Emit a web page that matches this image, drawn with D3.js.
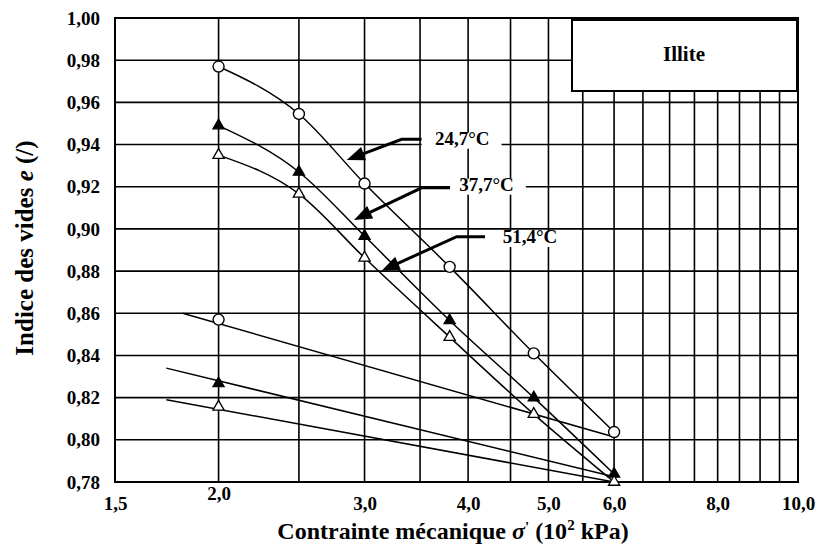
<!DOCTYPE html>
<html><head><meta charset="utf-8">
<script src="https://cdn.jsdelivr.net/npm/d3@7"></script>
<style>
body{margin:0;background:#fff;}
svg text{font-family:"Liberation Serif","Times New Roman",serif;font-weight:bold;fill:#000;}
</style></head>
<body><svg id="c" width="821" height="552"></svg>
<script>
// ---- data ----
const xTickValues = [1.5, 2, 3, 4, 5, 6, 8, 10];
const xTickLabels = ["1,5", "2,0", "3,0", "4,0", "5,0", "6,0", "8,0", "10,0"];
const xGridValues = [2, 2.5, 3, 3.5, 4, 4.5, 5, 5.5, 6, 6.5, 7, 7.5, 8, 8.5, 9, 9.5];
const yTickValues = [0.78, 0.80, 0.82, 0.84, 0.86, 0.88, 0.90, 0.92, 0.94, 0.96, 0.98, 1.00];
const yTickLabels = ["0,78", "0,80", "0,82", "0,84", "0,86", "0,88", "0,90", "0,92", "0,94", "0,96", "0,98", "1,00"];

// loading points (σ' in 10^2 kPa)
const loadX = [2.0, 2.5, 3.0, 3.8, 4.8, 6.0];
const load247 = [0.977, 0.9545, 0.9215, 0.882, 0.841, 0.8037];
const load377 = [0.949, 0.927, 0.8966, 0.8566, 0.820, 0.7838];
const load514 = [0.935, 0.9166, 0.8863, 0.8487, 0.8122, 0.780];
// unloading measured points
const unloadX = [2.0];
const unload247 = [0.857];
const unload377 = [0.8267];
const unload514 = [0.8156];
// unloading fitted lines (start, end)
const unloadLine247X = [1.81, 6.0], unloadLine247Y = [0.860, 0.8013];
const unloadLine377X = [1.73, 6.0], unloadLine377Y = [0.834, 0.7825];
const unloadLine514X = [1.73, 6.0], unloadLine514Y = [0.819, 0.780];

// annotations
const annLabels = ["24,7°C", "37,7°C", "51,4°C"];
const annTipX = [2.855, 2.913, 3.146], annTipY = [0.9327, 0.9042, 0.8802];
const annElbowX = [3.326, 3.515, 3.875], annElbowY = [0.9425, 0.9195, 0.8963];
const annEndX = [3.515, 3.804, 4.192];
const annTextX = [3.648, 3.903, 4.403], annTextY = [0.9418, 0.9200, 0.8952];

const legendTitle = "Illite";

// ---- layout ----
const svg = d3.select("#c");
const L = 115, R = 798, T = 18, B = 482;
const x = d3.scaleLog().domain([1.5, 10]).range([L, R]);
const y = d3.scaleLinear().domain([0.78, 1.00]).range([B, T]);

const g = svg.append("g");
// grid
g.selectAll(".vg").data(xGridValues).enter().append("line")
  .attr("x1", d => x(d)).attr("x2", d => x(d)).attr("y1", T).attr("y2", B)
  .attr("stroke", "#000").attr("stroke-width", 1.6);
g.selectAll(".hg").data(yTickValues.slice(1, -1)).enter().append("line")
  .attr("x1", L).attr("x2", R).attr("y1", d => y(d)).attr("y2", d => y(d))
  .attr("stroke", "#000").attr("stroke-width", 1.6);

// legend box
svg.append("rect").attr("x", 572).attr("y", 20).attr("width", 225).attr("height", 71)
  .attr("fill", "#fff").attr("stroke", "#000").attr("stroke-width", 2);
svg.append("text").attr("x", 684).attr("y", 56).attr("text-anchor", "middle")
  .attr("dominant-baseline", "middle").style("font-size", "21px").text(legendTitle);

// axes
const xa = svg.append("g").attr("transform", `translate(0,${B})`)
  .call(d3.axisBottom(x).tickValues(xTickValues).tickSize(0).tickPadding(15)
    .tickFormat((d, i) => xTickLabels[i]));
xa.select(".domain").remove();
xa.selectAll("text").style("font-size", "19px").style("font-family", '"Liberation Serif",serif')
  .style("font-weight", "bold")
  .attr("y", (d) => d === 2 ? 5 : 15);

const ya = svg.append("g").attr("transform", `translate(${L},0)`)
  .call(d3.axisLeft(y).tickValues(yTickValues).tickSize(0).tickPadding(15)
    .tickFormat((d, i) => yTickLabels[i]));
ya.select(".domain").remove();
ya.selectAll("text").style("font-size", "19px").style("font-family", '"Liberation Serif",serif')
  .style("font-weight", "bold");

// border
svg.append("rect").attr("x", L).attr("y", T).attr("width", R - L).attr("height", B - T)
  .attr("fill", "none").attr("stroke", "#000").attr("stroke-width", 2);

// curves
const curveGen = d3.line().x(d => x(d[0])).y(d => y(d[1])).curve(d3.curveMonotoneX);
const straight = d3.line().x(d => x(d[0])).y(d => y(d[1]));
[load247, load377, load514].forEach(arr => {
  svg.append("path").attr("d", curveGen(loadX.map((v, i) => [v, arr[i]])))
    .attr("fill", "none").attr("stroke", "#000").attr("stroke-width", 1.5);
});
[[unloadLine247X, unloadLine247Y], [unloadLine377X, unloadLine377Y], [unloadLine514X, unloadLine514Y]].forEach(([xs, ys]) => {
  svg.append("path").attr("d", straight(xs.map((v, i) => [v, ys[i]])))
    .attr("fill", "none").attr("stroke", "#000").attr("stroke-width", 1.5);
});

// markers
const circles = loadX.map((v, i) => [v, load247[i]]).concat(unloadX.map((v, i) => [v, unload247[i]]));
svg.selectAll(".c247").data(circles).enter().append("circle")
  .attr("cx", d => x(d[0])).attr("cy", d => y(d[1])).attr("r", 5.5)
  .attr("fill", "#fff").attr("stroke", "#000").attr("stroke-width", 1.4);
const tri = d3.symbol().type(d3.symbolTriangle).size(55);
const filled = loadX.map((v, i) => [v, load377[i]]).concat(unloadX.map((v, i) => [v, unload377[i]]));
svg.selectAll(".t377").data(filled).enter().append("path").attr("d", tri)
  .attr("transform", d => `translate(${x(d[0])},${y(d[1])})`)
  .attr("fill", "#000").attr("stroke", "#000").attr("stroke-width", 1.2);
const open = loadX.map((v, i) => [v, load514[i]]).concat(unloadX.map((v, i) => [v, unload514[i]]));
svg.selectAll(".t514").data(open).enter().append("path").attr("d", tri)
  .attr("transform", d => `translate(${x(d[0])},${y(d[1])})`)
  .attr("fill", "#fff").attr("stroke", "#000").attr("stroke-width", 1.3);

// annotations
annLabels.forEach((lab, i) => {
  const t = svg.append("text").attr("x", x(annTextX[i])).attr("y", y(annTextY[i]))
    .attr("dominant-baseline", "middle").style("font-size", "19px").text(lab);
  const bb = t.node().getBBox();
  const cy = y(annTextY[i]);
  svg.insert("rect", () => t.node())
    .attr("x", x(annEndX[i])).attr("y", cy - 8)
    .attr("width", bb.x + bb.width + 12 - x(annEndX[i])).attr("height", 16)
    .attr("fill", "#fff");
  const tx = x(annTipX[i]), ty = y(annTipY[i]);
  const ex = x(annElbowX[i]), ey = y(annElbowY[i]);
  const dx = tx - ex, dy = ty - ey, len = Math.hypot(dx, dy);
  const ux = dx / len, uy = dy / len;
  const hl = 18, hw = 7;
  const bx = tx - ux * hl, by = ty - uy * hl;
  svg.append("path")
    .attr("d", `M${x(annEndX[i])},${ey}L${ex},${ey}L${bx + ux * 2},${by + uy * 2}`)
    .attr("fill", "none").attr("stroke", "#000").attr("stroke-width", 3);
  svg.append("path")
    .attr("d", `M${tx},${ty}L${bx - uy * hw},${by + ux * hw}L${bx + uy * hw},${by - ux * hw}Z`)
    .attr("fill", "#000");
});

// axis titles
const xt = svg.append("text").attr("x", 453).attr("y", 539).attr("text-anchor", "middle")
  .style("font-size", "24px");
xt.append("tspan").text("Contrainte mécanique ");
xt.append("tspan").style("font-style", "italic").text("σ");
xt.append("tspan").attr("dy", -7).style("font-size", "15px").text("'");
xt.append("tspan").attr("dy", 7).text(" (10");
xt.append("tspan").attr("dy", -9).style("font-size", "15px").text("2");
xt.append("tspan").attr("dy", 9).text(" kPa)");

const yt = svg.append("text").attr("transform", "translate(33,248) rotate(-90)")
  .attr("text-anchor", "middle").style("font-size", "25px");
yt.append("tspan").text("Indice des vides ");
yt.append("tspan").style("font-style", "italic").text("e");
yt.append("tspan").text(" (/)");
</script></body></html>
